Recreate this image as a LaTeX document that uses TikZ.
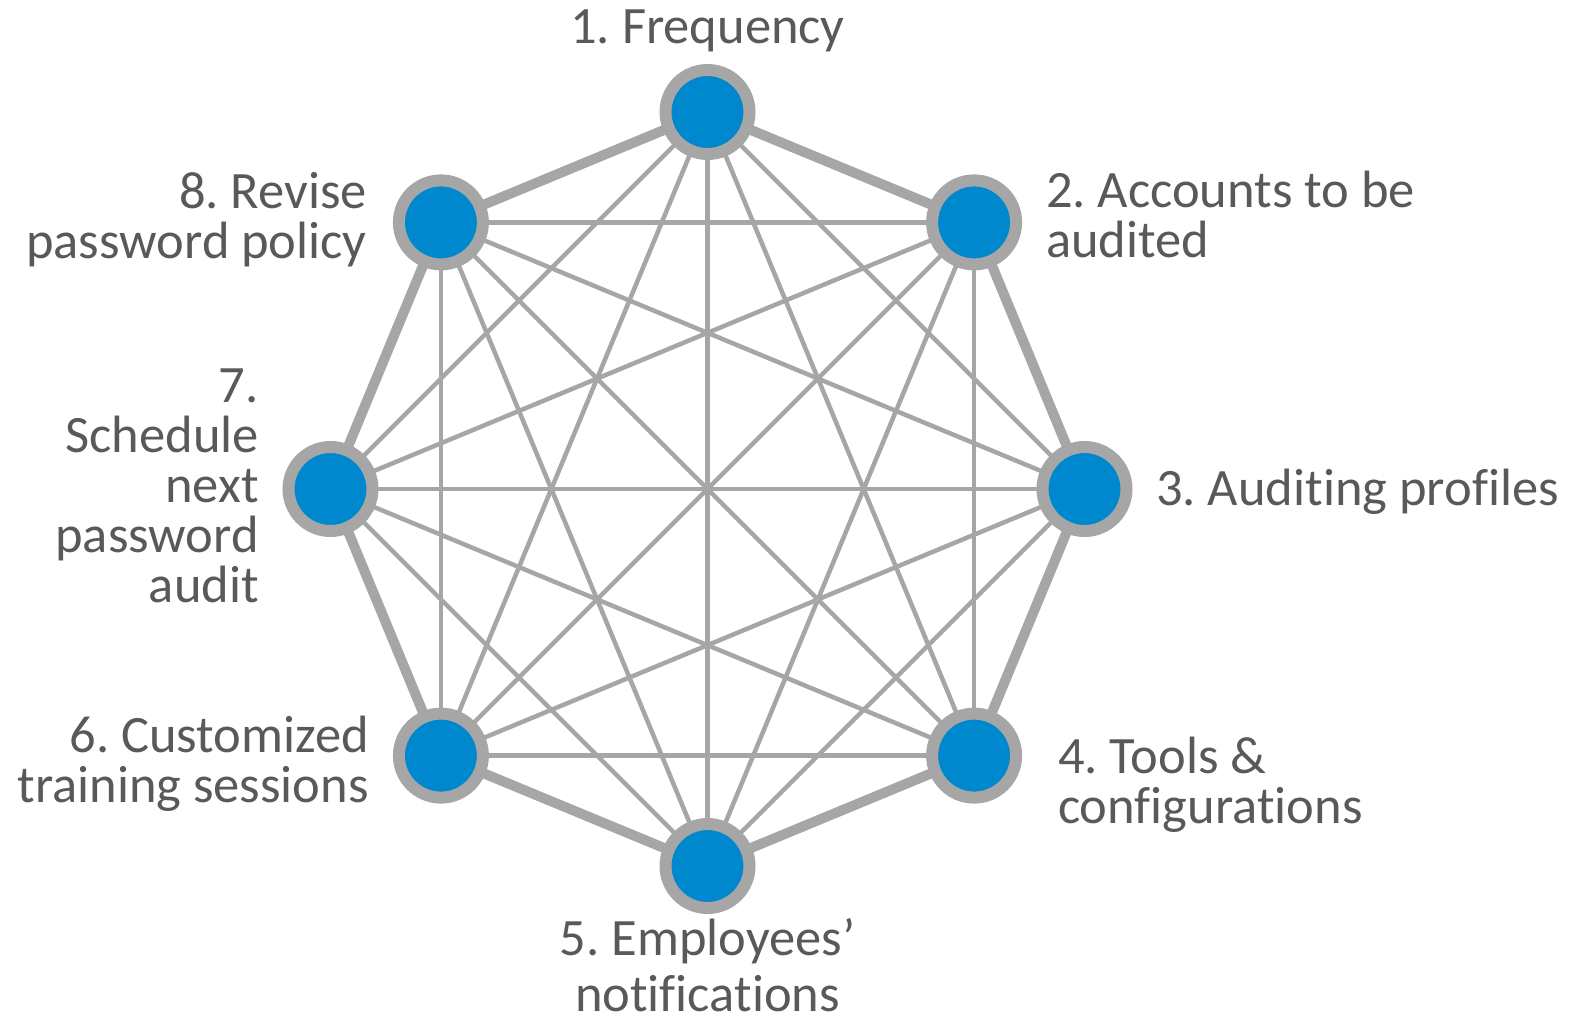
\documentclass[tikz,border=0pt]{standalone}
\usepackage{fontspec}
\setmainfont{Carlito}[Ligatures=NoCommon]
\frenchspacing
\definecolor{nodeblue}{RGB}{0,136,206}
\definecolor{ringgray}{RGB}{166,166,166}
\definecolor{txtgray}{RGB}{89,89,89}
\begin{document}
\begin{tikzpicture}[x=1pt,y=-1pt,
  vtx/.style={circle,fill=nodeblue,draw=ringgray,line width=12pt,minimum size=84pt,inner sep=0pt},
  thinline/.style={draw=ringgray,line width=4.5pt},
  thickline/.style={draw=ringgray,line width=10pt},
  lbl/.style={text=txtgray,font=\fontsize{52.5}{50}\selectfont,inner sep=0pt}]
\useasboundingbox (0,0) rectangle (1585,1022);
\coordinate (c1) at (707.5,112);
\coordinate (c2) at (974.1,222.4);
\coordinate (c3) at (1084.5,489);
\coordinate (c4) at (974.1,755.6);
\coordinate (c5) at (707.5,866);
\coordinate (c6) at (440.9,755.6);
\coordinate (c7) at (330.5,489);
\coordinate (c8) at (440.9,222.4);
% chords
\foreach \a/\b in {1/3,1/4,1/5,1/6,1/7,2/4,2/5,2/6,2/7,2/8,3/5,3/6,3/7,3/8,4/6,4/7,4/8,5/7,5/8,6/8}{
  \draw[thinline] (c\a) -- (c\b);
}
% outer ring
\foreach \a/\b in {1/2,2/3,3/4,4/5,5/6,6/7,7/8,8/1}{
  \draw[thickline] (c\a) -- (c\b);
}
\foreach \i in {1,...,8}{
  \node[vtx] (n\i) at (c\i) {};
}
\node[lbl,anchor=base] (t1) at (707.5,44) {1. Frequency};
\node[lbl,anchor=base west,align=left] (t2) at (1046,257) {2. Accounts to be\\audited};
\node[lbl,anchor=base west] (t3) at (1156,505) {3. Auditing profiles};
\node[lbl,anchor=base west,align=left] (t4) at (1058,823) {4. Tools \&\\configurations};
\node[lbl,anchor=base,align=center] (t5) at (707.5,1011) {5. Employees’\\[6pt]notifications};
\node[lbl,anchor=base east,align=right] (t6) at (369,802) {6. Customized\\training sessions};
\node[lbl,anchor=base east,align=right] (t7) at (259,602) {7.\\Schedule\\next\\password\\audit};
\node[lbl,anchor=base east,align=right] (t8) at (367,258) {8. Revise\\password policy};
\end{tikzpicture}
\end{document}
